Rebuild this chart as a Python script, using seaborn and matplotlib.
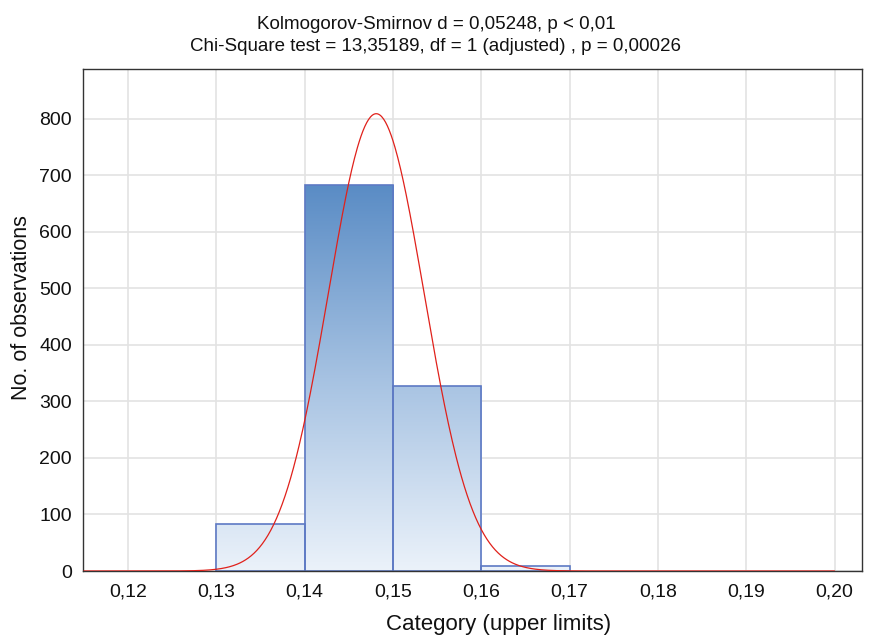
import numpy as np
import matplotlib
matplotlib.use('Agg')
import matplotlib.pyplot as plt
import seaborn as sns
from matplotlib.colors import LinearSegmentedColormap
from matplotlib.ticker import FuncFormatter

# binned data (upper limits of categories)
bin_edges = [0.13, 0.14, 0.15, 0.16, 0.17]
counts = [83, 682, 328, 8]
# fitted normal curve parameters
fit_mean = 0.1481
fit_sd = 0.00543
x_ticks = [0.12, 0.13, 0.14, 0.15, 0.16, 0.17, 0.18, 0.19, 0.20]
y_ticks = [0, 100, 200, 300, 400, 500, 600, 700, 800]

sns.set_style('white')
plt.rcParams['font.family'] = ['Liberation Sans', 'DejaVu Sans']

fig = plt.figure(figsize=(8.72, 6.37), dpi=100)
ax = fig.add_axes([0.0952, 0.1036, 0.8933, 0.7881])

centers = [(bin_edges[i] + bin_edges[i + 1]) / 2 for i in range(len(counts))]
sns.histplot(x=centers, weights=counts, bins=bin_edges, ax=ax,
             color='none', edgecolor='#5d79c4', linewidth=1.2, alpha=1)

# gradient fill clipped to each bar
cmap = LinearSegmentedColormap.from_list('g', ['#ebf2fa', '#a6c2e2', '#5a8cc5'])
grad = np.linspace(0, 1, 256).reshape(-1, 1)
ymax_bar = max(counts)
for p in ax.patches:
    im = ax.imshow(grad, cmap=cmap, aspect='auto', origin='lower',
                   extent=[bin_edges[0], bin_edges[-1], 0, ymax_bar], zorder=1)
    im.set_clip_path(p)
    p.set_zorder(2)

# fitted normal curve as expected counts
n_total = sum(counts)
width = bin_edges[1] - bin_edges[0]
xs = np.linspace(0.115, 0.20, 800)
ys = n_total * width / (fit_sd * np.sqrt(2 * np.pi)) * np.exp(-0.5 * ((xs - fit_mean) / fit_sd) ** 2)
sns.lineplot(x=xs, y=ys, ax=ax, color='#e0211b', linewidth=0.9, zorder=3)

ax.set_xlim(0.1149, 0.2031)
ax.set_ylim(0, 888)
ax.set_xticks(x_ticks)
ax.set_yticks(y_ticks)
ax.xaxis.set_major_formatter(FuncFormatter(lambda v, p: f'{v:.2f}'.replace('.', ',')))
ax.grid(True, color='#e3e3e3', linewidth=1.2)
ax.set_axisbelow(True)
ax.tick_params(direction='in', length=4, width=1, color='#333333', labelsize=14,
               labelcolor='#111111')
ax.tick_params(axis='x', pad=9)
ax.tick_params(axis='y', pad=8)
for s in ax.spines.values():
    s.set_color('#333333')
    s.set_linewidth(1)

ax.set_xlabel('Category (upper limits)', fontsize=16, color='#111111')
ax.set_ylabel('No. of observations', fontsize=15.5, color='#111111')
ax.xaxis.set_label_coords(0.533, -0.085)
ax.yaxis.set_label_coords(-0.066, 0.525)
ax.set_title('Kolmogorov-Smirnov d = 0,05248, p < 0,01\n'
             'Chi-Square test = 13,35189, df = 1 (adjusted) , p = 0,00026',
             fontsize=13.5, linespacing=1.35, pad=13, color='#111111', x=0.453)

fig.savefig('out.png', dpi=100)
